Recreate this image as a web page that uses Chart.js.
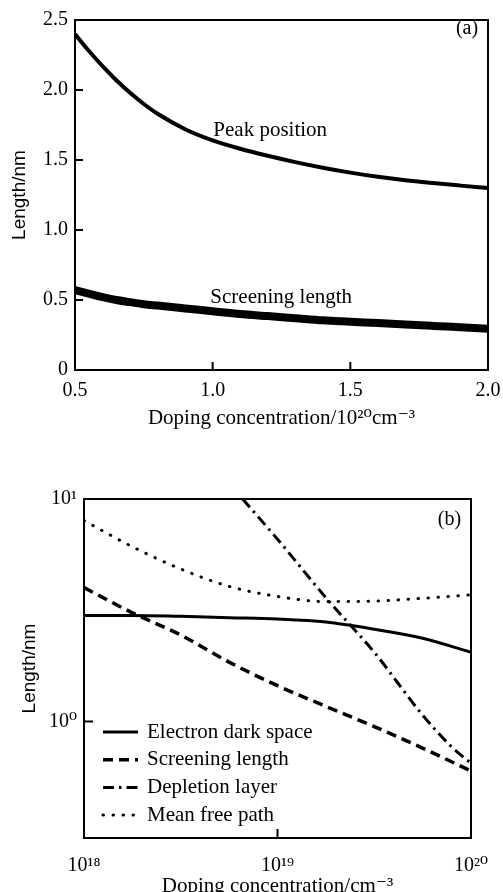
<!DOCTYPE html>
<html>
<head>
<meta charset="utf-8">
<script src="https://cdn.jsdelivr.net/npm/chart.js@4.4.1/dist/chart.umd.min.js"></script>
<style>
html, body { margin: 0; padding: 0; background: #fff; overflow: hidden; width: 503px; height: 892px; }
#ca { position: absolute; left: 0; top: 0; }
#cb { position: absolute; left: 0; top: 440px; }
</style>
</head>
<body>
<canvas id="ca" width="503" height="440"></canvas>
<canvas id="cb" width="503" height="470"></canvas>
<script>
// ---------- Panel (a) data ----------
const dopingA = [0.5, 0.55, 0.6, 0.65, 0.7, 0.75, 0.8, 0.9, 1.0, 1.1, 1.2, 1.3, 1.4, 1.5, 1.6, 1.7, 1.8, 1.9, 2.0];
const peakPosition = [2.40, 2.28, 2.17, 2.07, 1.98, 1.90, 1.83, 1.72, 1.64, 1.58, 1.53, 1.485, 1.445, 1.41, 1.38, 1.355, 1.335, 1.317, 1.30];
const screeningA = [0.57, 0.545, 0.52, 0.50, 0.485, 0.47, 0.46, 0.44, 0.42, 0.40, 0.385, 0.37, 0.355, 0.345, 0.335, 0.325, 0.315, 0.305, 0.295];
const xTicksA = [0.5, 1.0, 1.5, 2.0];
const yTicksA = [0, 0.5, 1.0, 1.5, 2.0, 2.5];

// ---------- Panel (b) data ----------
const dopingB = [1e18, 1.78e18, 3.16e18, 5.62e18, 1e19, 1.78e19, 3.16e19, 5.62e19, 1e20];
const electronDarkSpace = [3.0, 3.0, 2.97, 2.93, 2.89, 2.80, 2.60, 2.37, 2.05];
const screeningB = [4.0, 3.08, 2.45, 1.85, 1.45, 1.17, 0.95, 0.76, 0.60];
const meanFreePath = [8.0, 6.1, 4.85, 4.05, 3.65, 3.46, 3.48, 3.58, 3.71];
const dopingDepletion = [6.6e18, 1e19, 1.78e19, 3.16e19, 5.62e19, 7.94e19, 1e20];
const depletionLayer = [10.0, 6.6, 3.6, 2.05, 1.07, 0.77, 0.65];
const xTicksB = [1e18, 1e19, 1e20];
const yTicksB = [1, 10];

const SERIF = '"Liberation Serif", "Times New Roman", "DejaVu Serif", serif';
const SANS = '"Liberation Sans", Arial, "DejaVu Sans", sans-serif';

const SUP = {'0':'⁰','1':'¹','2':'²','3':'³','4':'⁴','5':'⁵','6':'⁶','7':'⁷','8':'⁸','9':'⁹','-':'⁻'};
function powLabel(v) {
  const e = Math.round(Math.log10(v));
  return '10' + String(e).split('').map(c => SUP[c]).join('');
}
function pts(xs, ys) { return xs.map((x, i) => ({x: x, y: ys[i]})); }

// frame + inward ticks
const innerTicks = {
  id: 'innerTicks',
  afterDatasetsDraw(chart, args, o) {
    const {ctx, chartArea: a, scales} = chart;
    ctx.save();
    ctx.strokeStyle = '#000';
    ctx.lineWidth = 2;
    ctx.setLineDash([]);
    ctx.beginPath();
    (o.x || []).forEach(v => {
      const px = scales.x.getPixelForValue(v);
      ctx.moveTo(px, a.bottom); ctx.lineTo(px, a.bottom - o.len);
    });
    (o.y || []).forEach(v => {
      const py = scales.y.getPixelForValue(v);
      ctx.moveTo(a.left, py); ctx.lineTo(a.left + o.len, py);
    });
    ctx.stroke();
    ctx.strokeRect(a.left, a.top, a.right - a.left, a.bottom - a.top);
    ctx.restore();
  }
};

// text annotations
const annot = {
  id: 'annot',
  afterDraw(chart, args, o) {
    const {ctx, chartArea: a, scales} = chart;
    ctx.save();
    ctx.fillStyle = '#000';
    ctx.textAlign = 'center';
    ctx.textBaseline = 'middle';
    (o.items || []).forEach(it => {
      ctx.font = (it.size || 21) + 'px ' + SERIF;
      let px, py;
      if (it.dataX !== undefined) {
        px = scales.x.getPixelForValue(it.dataX);
        py = scales.y.getPixelForValue(it.dataY);
      } else {
        px = a.right + it.fromRight;
        py = a.top + it.fromTop;
      }
      ctx.fillText(it.text, px, py);
    });
    ctx.restore();
  }
};

// legend inside plot area (panel b)
const inLegend = {
  id: 'inLegend',
  afterDraw(chart, args, o) {
    if (!o.display) return;
    const {ctx, chartArea: a} = chart;
    ctx.save();
    ctx.font = o.size + 'px ' + SERIF;
    ctx.textBaseline = 'middle';
    ctx.textAlign = 'left';
    chart.data.datasets.forEach((ds, i) => {
      const y = a.bottom + o.firstRow + i * o.rowStep;
      ctx.save();
      ctx.strokeStyle = ds.borderColor;
      ctx.lineWidth = ds.borderWidth;
      ctx.lineCap = ds.borderCapStyle || 'butt';
      ctx.setLineDash(ds.borderDash || []);
      ctx.beginPath();
      ctx.moveTo(a.left + o.lineStart, y);
      ctx.lineTo(a.left + o.lineEnd, y);
      ctx.stroke();
      ctx.restore();
      ctx.fillStyle = '#000';
      ctx.fillText(ds.label, a.left + o.textStart, y);
    });
    ctx.restore();
  }
};

Chart.defaults.color = '#000';

function fitX(h) {
  return s => { s.height = h; s.paddingLeft = 0; s.paddingRight = 0; };
}
function fitY(w) {
  return s => { s.width = w; s.paddingTop = 0; s.paddingBottom = 0; };
}

// ---------- Chart (a) ----------
new Chart(document.getElementById('ca'), {
  type: 'line',
  data: {
    datasets: [
      {label: 'Peak position', data: pts(dopingA, peakPosition), borderColor: '#000', borderWidth: 4,
       pointRadius: 0, cubicInterpolationMode: 'monotone', fill: false},
      {label: 'Screening length', data: pts(dopingA, screeningA), borderColor: '#000', borderWidth: 8,
       pointRadius: 0, cubicInterpolationMode: 'monotone', fill: false}
    ]
  },
  options: {
    responsive: false, animation: false, events: [],
    layout: {padding: {left: 0, top: 20, right: 15, bottom: 0}},
    plugins: {
      legend: {display: false}, tooltip: {enabled: false},
      innerTicks: {x: [1.0, 1.5], y: [0.5, 1.0, 1.5, 2.0], len: 8},
      annot: {items: [
        {text: 'Peak position', dataX: 1.209, dataY: 1.71},
        {text: 'Screening length', dataX: 1.249, dataY: 0.52},
        {text: '(a)', fromRight: -21, fromTop: 9, size: 20}
      ]}
    },
    scales: {
      x: {
        type: 'linear', min: 0.5, max: 2.0,
        grid: {display: false, drawTicks: false}, border: {display: false},
        afterBuildTicks: s => { s.ticks = xTicksA.map(v => ({value: v})); },
        afterFit: fitX(70),
        ticks: {color: '#000', font: {family: SERIF, size: 20}, padding: 9, maxRotation: 0, autoSkip: false,
                callback: v => Number(v).toFixed(1)},
        title: {display: true, text: 'Doping concentration/10²⁰cm⁻³', color: '#000',
                font: {family: SERIF, size: 21}, padding: {top: 0, bottom: 9}}
      },
      y: {
        type: 'linear', min: 0, max: 2.5,
        grid: {display: false, drawTicks: false}, border: {display: false},
        afterBuildTicks: s => { s.ticks = yTicksA.map(v => ({value: v})); },
        afterFit: fitY(75),
        ticks: {color: '#000', font: {family: SERIF, size: 20}, padding: 7, autoSkip: false,
                callback: v => (v === 0 ? '0' : Number(v).toFixed(1))},
        title: {display: true, text: 'Length/nm', color: '#000',
                font: {family: SANS, size: 19}, padding: {top: 8, bottom: 0}}
      }
    }
  },
  plugins: [innerTicks, annot]
});

// ---------- Chart (b) ----------
new Chart(document.getElementById('cb'), {
  type: 'line',
  data: {
    datasets: [
      {label: 'Electron dark space', data: pts(dopingB, electronDarkSpace), borderColor: '#000', borderWidth: 3,
       pointRadius: 0, cubicInterpolationMode: 'monotone', fill: false, borderDash: []},
      {label: 'Screening length', data: pts(dopingB, screeningB), borderColor: '#000', borderWidth: 3.5,
       pointRadius: 0, cubicInterpolationMode: 'monotone', fill: false, borderDash: [10, 6]},
      {label: 'Depletion layer', data: pts(dopingDepletion, depletionLayer), borderColor: '#000', borderWidth: 3,
       pointRadius: 0, cubicInterpolationMode: 'monotone', fill: false, borderDash: [11, 5, 2.5, 5]},
      {label: 'Mean free path', data: pts(dopingB, meanFreePath), borderColor: '#000', borderWidth: 3,
       pointRadius: 0, cubicInterpolationMode: 'monotone', fill: false, borderDash: [0.5, 9.5], borderCapStyle: 'round'}
    ]
  },
  options: {
    responsive: false, animation: false, events: [],
    layout: {padding: {left: 0, top: 59, right: 32, bottom: 0}},
    plugins: {
      legend: {display: false}, tooltip: {enabled: false},
      innerTicks: {x: [1e19], y: [1], len: 9},
      annot: {items: [{text: '(b)', fromRight: -21.5, fromTop: 21, size: 20}]},
      inLegend: {display: true, size: 21, firstRow: -106, rowStep: 27.7, lineStart: 19, lineEnd: 54, textStart: 63}
    },
    scales: {
      x: {
        type: 'logarithmic', min: 1e18, max: 1e20,
        grid: {display: false, drawTicks: false}, border: {display: false},
        afterBuildTicks: s => { s.ticks = xTicksB.map(v => ({value: v, major: true})); },
        afterFit: fitX(72),
        ticks: {color: '#000', font: {family: SERIF, size: 20}, padding: 16, maxRotation: 0, autoSkip: false,
                callback: v => powLabel(v)},
        title: {display: true, text: 'Doping concentration/cm⁻³', color: '#000',
                font: {family: SERIF, size: 21}, padding: {top: 0, bottom: 11}}
      },
      y: {
        type: 'logarithmic', min: 0.3, max: 10,
        grid: {display: false, drawTicks: false}, border: {display: false},
        afterBuildTicks: s => { s.ticks = yTicksB.map(v => ({value: v, major: true})); },
        afterFit: fitY(84),
        ticks: {color: '#000', font: {family: SERIF, size: 20}, padding: 7, autoSkip: false,
                callback: v => powLabel(v)},
        title: {display: true, text: 'Length/nm', color: '#000',
                font: {family: SANS, size: 19}, padding: {top: 18, bottom: 0}}
      }
    }
  },
  plugins: [innerTicks, annot, inLegend]
});
</script>
</body>
</html>
